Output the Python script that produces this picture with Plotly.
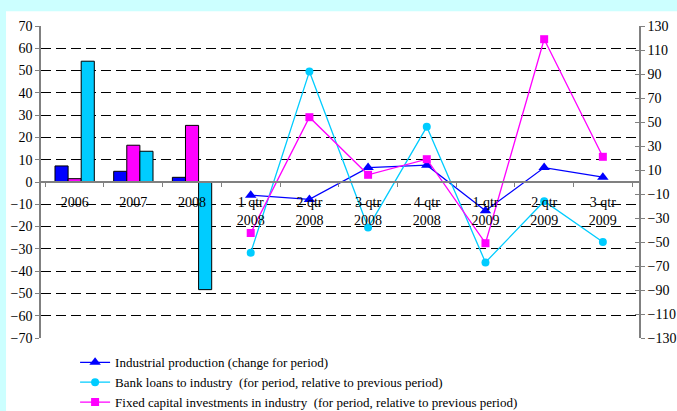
import plotly.graph_objects as go

# Categories along the horizontal axis: annual bars, then quarterly lines
years = ["2006", "2007", "2008"]
quarters = ["1 qtr<br>2008", "2 qtr<br>2008", "3 qtr<br>2008", "4 qtr<br>2008",
            "1 qtr<br>2009", "2 qtr<br>2009", "3 qtr<br>2009"]
categories = years + quarters

# Annual values, %, left axis
prod_annual = [7.2, 4.8, 2.1]
invest_annual = [1.5, 16.5, 25.4]
loans_annual = [54.2, 13.8, -48.3]

# Quarterly values, %, right axis
prod_q = [-11, -14.5, 12, 14, -24, 12, 4]
loans_q = [-59, 92, -38, 46, -67, -16, -50]
invest_q = [-42.5, 54, 6, 19, -51, 119, 21]

left_ticks = list(range(-70, 71, 10))
right_ticks = list(range(-130, 131, 20))

BLUE = "#0000FF"
CYAN = "#00CCFF"
MAGENTA = "#FF00FF"
FONT = "Liberation Serif, Times New Roman, serif"

fig = go.Figure()

# Annual bars
for vals, col in [(prod_annual, BLUE), (invest_annual, MAGENTA), (loans_annual, CYAN)]:
    fig.add_trace(go.Bar(x=years, y=vals, marker=dict(color=col, line=dict(color="black", width=1)),
                         showlegend=False, yaxis="y"))

# Quarterly lines
fig.add_trace(go.Scatter(x=quarters, y=prod_q, mode="lines+markers", yaxis="y2",
                         name="Industrial production (change for period)",
                         line=dict(color=BLUE, width=1.3),
                         marker=dict(symbol="triangle-up", size=10, color=BLUE)))
fig.add_trace(go.Scatter(x=quarters, y=loans_q, mode="lines+markers", yaxis="y2",
                         name="Bank loans to industry  (for period, relative to previous period)",
                         line=dict(color=CYAN, width=1.3),
                         marker=dict(symbol="circle", size=8, color=CYAN)))
fig.add_trace(go.Scatter(x=quarters, y=invest_q, mode="lines+markers", yaxis="y2",
                         name="Fixed capital investments in industry  (for period, relative to previous period)",
                         line=dict(color=MAGENTA, width=1.3),
                         marker=dict(symbol="square", size=8, color=MAGENTA)))

fig.update_layout(
    width=677, height=411,
    margin=dict(l=41, r=38, t=26, b=73, autoexpand=False),
    paper_bgcolor="#CCFFFF",
    plot_bgcolor="white",
    font=dict(family=FONT, size=14, color="black"),
    barmode="group", bargap=0.33, bargroupgap=0,
    xaxis=dict(type="category", categoryorder="array", categoryarray=categories,
               anchor="free", position=0.5, showline=True, linecolor="#808080", linewidth=2,
               ticks="outside", ticklen=4, tickcolor="#808080", tickson="boundaries",
               ticklabelstandoff=7,
               showgrid=False, zeroline=False, tickfont=dict(size=14)),
    yaxis=dict(range=[-70, 70], tickvals=left_ticks, showline=True, linecolor="#808080",
               linewidth=1.5, ticks="outside", ticklen=4, tickcolor="#808080",
               showgrid=True, gridcolor="black", gridwidth=1.2, griddash="10px,5px",
               zeroline=False, tickfont=dict(size=14)),
    yaxis2=dict(range=[-130, 130], tickvals=right_ticks, overlaying="y", side="right",
                showline=True, linecolor="#808080", linewidth=1.5, ticks="outside",
                ticklen=4, tickcolor="#808080", showgrid=False, zeroline=False,
                tickfont=dict(size=14)),
    yaxis3=dict(range=[-130, 130], tickvals=right_ticks, overlaying="y", side="right",
                ticks="inside", ticklen=4, tickcolor="#808080", showticklabels=False,
                showgrid=False, zeroline=False, showline=False),
    legend=dict(x=0.057, y=-0.03, xanchor="left", yanchor="top", bgcolor="rgba(0,0,0,0)",
                font=dict(size=13), tracegroupgap=0),
    shapes=[dict(type="rect", xref="paper", yref="paper", x0=-0.0585, x1=1.2, y0=-0.5, y1=1.047,
                 fillcolor="white", line=dict(width=0), layer="below")],
)
# invisible trace to activate the crossing tick marks of the right axis
fig.add_trace(go.Scatter(x=[categories[0]], y=[None], yaxis="y3", showlegend=False, hoverinfo="skip"))

fig.write_html("out.html")
